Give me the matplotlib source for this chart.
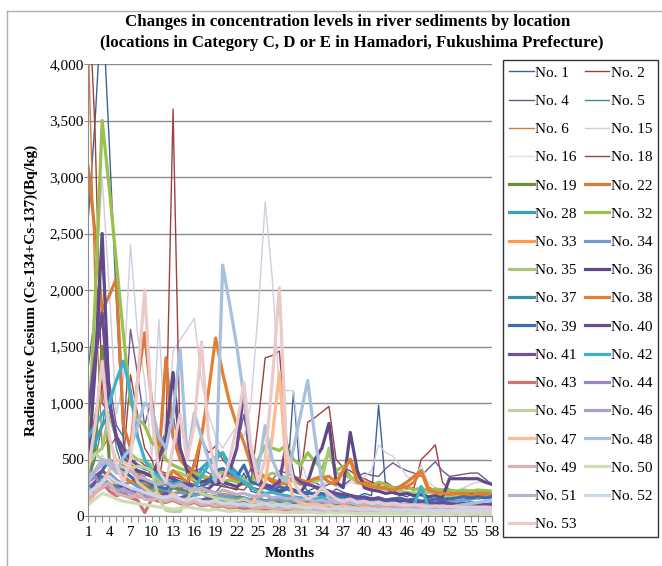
import matplotlib
matplotlib.use('Agg')
import matplotlib.pyplot as plt
from matplotlib.lines import Line2D
from matplotlib.ticker import FuncFormatter
import numpy as np

plt.rcParams['font.family'] = ['Liberation Serif', 'DejaVu Serif']

months = np.arange(1, 59)

# monthly readings (Bq/kg) per location
no1 = [2600, 3500, 4600, 3300, 1900, 650, 420, 380, 300, 260,
       240, 300, 280, 250, 220, 500, 260, 230, 210, 280,
       250, 230, 380, 220, 200, 260, 240, 200, 230, 1100,
       300, 220, 250, 200, 180, 240, 210, 190, 170, 200,
       180, 980, 260, 200, 190, 170, 210, 180, 160, 190,
       150, 170, 160, 180, 170, 150, 160, 170]
no2 = [4800, 3400, 1000, 900, 700, 600, 550, 500, 450, 420,
       400, 380, 350, 330, 300, 280, 300, 320, 280, 260,
       250, 240, 230, 300, 820, 1400, 1420, 1460, 700, 300,
       350, 830, 870, 920, 970, 500, 430, 400, 350, 330,
       300, 280, 300, 260, 250, 240, 250, 500, 560, 630,
       300, 230, 220, 210, 200, 190, 210, 200]
no4 = [1300, 1800, 2300, 1200, 800, 700, 1650, 1250, 800, 1050,
       600, 750, 900, 500, 450, 400, 420, 380, 350, 330,
       420, 600, 900, 400, 300, 350, 320, 400, 380, 350,
       300, 280, 300, 260, 280, 300, 270, 320, 350, 380,
       360, 350, 420, 470, 430, 400, 380, 350, 420, 480,
       400, 350, 360, 370, 380, 380, 330, 280]
no5 = [300, 500, 800, 1150, 600, 400, 350, 300, 280, 250,
       230, 220, 260, 240, 210, 200, 190, 220, 200, 180,
       170, 190, 160, 150, 170, 140, 160, 150, 130, 140,
       120, 130, 150, 120, 110, 130, 120, 100, 110, 120,
       100, 110, 90, 100, 110, 90, 80, 100, 90, 80,
       90, 100, 80, 90, 85, 80, 90, 85]
no6 = [4300, 2000, 600, 700, 500, 450, 420, 380, 350, 400,
       320, 300, 280, 250, 260, 240, 220, 230, 210, 200,
       190, 180, 200, 170, 160, 180, 150, 160, 140, 150,
       130, 140, 150, 130, 120, 130, 110, 120, 130, 110,
       100, 120, 110, 100, 90, 110, 100, 90, 100, 90,
       80, 90, 85, 80, 90, 85, 80, 90]
no15 = [800, 2000, 3000, 2000, 900, 1200, 2400, 1600, 1200, 500,
        1740, 500, 1460, 1560, 1650, 1750, 1200, 900, 700, 600,
        700, 800, 700, 1000, 1800, 2780, 2100, 1110, 1110, 1110,
        500, 300, 250, 280, 300, 260, 250, 300, 280, 350,
        400, 630, 560, 530, 450, 350, 320, 450, 300, 250,
        220, 200, 220, 250, 280, 300, 300, 300]
no16 = [150, 300, 550, 400, 250, 200, 180, 160, 150, 140,
        130, 120, 140, 110, 100, 120, 90, 100, 110, 90,
        80, 90, 100, 80, 70, 90, 80, 70, 80, 60,
        70, 60, 80, 70, 60, 70, 60, 50, 60, 70,
        60, 50, 60, 55, 50, 60, 50, 45, 55, 50,
        45, 50, 55, 45, 50, 45, 50, 45]
no18 = [500, 900, 1200, 600, 700, 500, 1250, 900, 600, 500,
        300, 700, 3600, 600, 350, 300, 680, 560, 620, 500,
        420, 380, 300, 420, 380, 250, 230, 260, 240, 220,
        200, 190, 210, 180, 170, 160, 180, 170, 150, 140,
        160, 150, 140, 130, 150, 140, 130, 120, 140, 130,
        120, 110, 130, 120, 110, 120, 110, 100]
no19 = [300, 600, 1500, 500, 400, 350, 300, 280, 260, 240,
        220, 200, 250, 230, 210, 190, 200, 180, 170, 160,
        150, 170, 160, 140, 150, 130, 140, 120, 130, 110,
        120, 100, 110, 100, 90, 100, 95, 90, 85, 90,
        80, 85, 80, 90, 75, 80, 85, 75, 80, 70,
        75, 80, 70, 75, 70, 80, 75, 70]
no22 = [3100, 2500, 1820, 1950, 2100, 800, 600, 1200, 1620, 1000,
        500, 1400, 700, 500, 420, 380, 350, 330, 400, 380,
        350, 320, 300, 280, 330, 350, 300, 280, 300, 320,
        280, 300, 330, 350, 300, 280, 400, 500, 350, 300,
        280, 260, 250, 240, 260, 300, 350, 400, 250, 220,
        230, 220, 210, 200, 220, 210, 200, 190]
no28 = [500, 650, 800, 900, 700, 550, 450, 400, 380, 350,
        300, 280, 320, 300, 260, 240, 420, 480, 520, 560,
        450, 380, 320, 280, 300, 260, 240, 220, 250, 230,
        200, 210, 190, 180, 200, 170, 160, 180, 150, 160,
        140, 150, 130, 140, 150, 130, 120, 260, 140, 120,
        110, 120, 130, 110, 120, 110, 100, 110]
no32 = [600, 1900, 3500, 2900, 2250, 1600, 1000, 870, 800, 650,
        600, 500, 450, 420, 400, 380, 360, 340, 320, 300,
        320, 300, 280, 260, 500, 620, 600, 580, 630, 500,
        450, 560, 480, 420, 560, 400, 440, 350, 300, 280,
        260, 300, 280, 250, 240, 260, 230, 250, 220, 240,
        230, 230, 220, 230, 220, 230, 225, 220]
no33 = [200, 250, 300, 350, 280, 260, 240, 220, 200, 180,
        160, 150, 170, 140, 130, 120, 140, 110, 100, 120,
        110, 100, 90, 110, 100, 90, 100, 80, 90, 100,
        80, 90, 70, 80, 90, 70, 80, 70, 60, 70,
        80, 60, 70, 60, 70, 60, 65, 60, 55, 60,
        55, 60, 50, 55, 60, 50, 55, 50]
no34 = [400, 350, 300, 380, 320, 280, 300, 260, 240, 220,
        250, 230, 200, 210, 190, 180, 200, 170, 160, 180,
        170, 150, 160, 140, 150, 130, 140, 150, 120, 130,
        120, 110, 130, 110, 100, 120, 110, 100, 110, 100,
        90, 100, 110, 90, 100, 90, 110, 100, 90, 100,
        110, 120, 130, 140, 150, 160, 170, 180]
no35 = [500, 550, 600, 900, 700, 600, 550, 500, 480, 450,
        300, 350, 400, 380, 350, 320, 300, 280, 350, 400,
        380, 350, 320, 300, 330, 350, 380, 360, 340, 320,
        300, 280, 300, 330, 600, 380, 360, 340, 300, 280,
        260, 250, 240, 230, 220, 210, 200, 190, 210, 200,
        190, 180, 170, 180, 170, 160, 170, 160]
no36 = [400, 1300, 2500, 1000, 700, 500, 450, 400, 380, 350,
        500, 700, 1270, 600, 400, 350, 300, 320, 280, 300,
        280, 260, 300, 250, 230, 260, 240, 220, 250, 230,
        210, 300, 500, 600, 820, 300, 250, 740, 400, 250,
        230, 220, 200, 210, 190, 200, 180, 190, 170, 180,
        160, 330, 330, 330, 330, 330, 300, 280]
no37 = [250, 300, 350, 280, 260, 240, 220, 200, 180, 200,
        170, 160, 180, 150, 140, 160, 130, 140, 150, 120,
        130, 110, 120, 100, 110, 90, 100, 110, 90, 100,
        80, 90, 100, 80, 90, 200, 100, 80, 90, 70,
        80, 90, 70, 80, 70, 80, 70, 75, 70, 65,
        70, 65, 60, 70, 65, 60, 65, 60]
no38 = [300, 400, 500, 450, 400, 350, 300, 330, 300, 280,
        250, 300, 400, 350, 300, 450, 700, 1100, 1575, 1265,
        1000, 800, 650, 450, 380, 350, 320, 300, 280, 350,
        320, 300, 330, 340, 350, 300, 400, 500, 300, 280,
        260, 250, 240, 230, 250, 260, 300, 400, 230, 210,
        200, 190, 200, 190, 180, 190, 180, 170]
no39 = [300, 350, 400, 500, 450, 400, 350, 300, 320, 280,
        260, 240, 300, 280, 250, 230, 260, 300, 400, 420,
        380, 350, 450, 300, 280, 250, 230, 260, 240, 220,
        200, 210, 190, 200, 180, 190, 170, 180, 160, 170,
        150, 160, 140, 150, 160, 140, 150, 130, 140, 150,
        140, 150, 160, 170, 160, 170, 160, 170]
no40 = [900, 1400, 1800, 1000, 700, 600, 500, 450, 420, 400,
        380, 350, 330, 300, 280, 260, 250, 240, 300, 350,
        400, 600, 1100, 500, 300, 280, 260, 300, 640, 350,
        300, 280, 260, 240, 220, 200, 190, 180, 170, 160,
        150, 160, 140, 150, 130, 140, 120, 130, 120, 110,
        120, 110, 100, 110, 100, 110, 100, 100]
no41 = [200, 300, 400, 350, 300, 250, 230, 200, 220, 190,
        180, 200, 170, 160, 180, 150, 140, 160, 130, 140,
        120, 130, 110, 120, 100, 110, 120, 100, 90, 100,
        90, 80, 90, 80, 70, 80, 70, 80, 70, 60,
        70, 60, 70, 60, 65, 60, 55, 60, 55, 50,
        55, 50, 55, 50, 45, 50, 45, 50]
no42 = [700, 800, 900, 1000, 1200, 1370, 1100, 700, 500, 400,
        350, 300, 280, 300, 250, 230, 350, 450, 500, 560,
        400, 350, 300, 250, 220, 200, 210, 190, 180, 170,
        160, 170, 150, 160, 140, 150, 130, 140, 120, 130,
        110, 120, 100, 110, 100, 90, 100, 250, 90, 80,
        90, 80, 85, 80, 75, 80, 75, 70]
no43 = [200, 250, 300, 220, 180, 200, 160, 140, 30, 150,
        130, 120, 140, 110, 100, 120, 90, 100, 80, 90,
        70, 80, 60, 70, 50, 60, 50, 60, 40, 50,
        40, 50, 40, 45, 40, 35, 40, 35, 30, 35,
        30, 35, 30, 25, 30, 25, 30, 25, 20, 25,
        20, 25, 20, 25, 20, 20, 25, 20]
no44 = [300, 350, 250, 280, 230, 200, 220, 180, 160, 170,
        150, 140, 160, 130, 120, 140, 110, 120, 100, 110,
        90, 100, 80, 90, 100, 80, 90, 70, 80, 70,
        60, 70, 60, 70, 60, 55, 60, 55, 50, 55,
        50, 55, 45, 50, 45, 50, 45, 40, 45, 40,
        45, 40, 45, 40, 45, 40, 40, 45]
no45 = [450, 550, 500, 480, 450, 430, 420, 440, 430, 400,
        150, 50, 40, 40, 150, 250, 200, 180, 160, 150,
        140, 130, 150, 120, 130, 110, 120, 100, 110, 90,
        100, 80, 90, 80, 70, 80, 70, 60, 70, 60,
        55, 60, 55, 50, 55, 50, 45, 50, 45, 40,
        45, 40, 45, 40, 45, 40, 45, 40]
no46 = [250, 200, 300, 260, 220, 240, 200, 180, 200, 170,
        160, 150, 170, 140, 130, 150, 120, 130, 110, 120,
        100, 110, 90, 100, 90, 80, 90, 80, 70, 80,
        70, 60, 70, 60, 70, 60, 55, 60, 55, 50,
        55, 50, 55, 50, 45, 50, 45, 50, 45, 40,
        45, 40, 45, 40, 40, 45, 40, 40]
no47 = [100, 200, 300, 400, 500, 480, 450, 300, 250, 200,
        180, 160, 200, 150, 130, 140, 120, 110, 130, 100,
        110, 100, 90, 100, 200, 300, 700, 1270, 400, 150,
        120, 100, 110, 90, 100, 80, 90, 80, 70, 80,
        70, 60, 70, 60, 70, 60, 55, 60, 55, 50,
        55, 50, 55, 50, 60, 55, 50, 55]
no48 = [300, 400, 500, 450, 380, 520, 600, 800, 1000, 950,
        700, 600, 900, 1480, 500, 910, 700, 500, 300, 2220,
        1870, 1500, 1050, 600, 400, 800, 500, 350, 300, 600,
        900, 1200, 700, 300, 150, 120, 140, 130, 120, 110,
        120, 100, 110, 100, 90, 100, 90, 100, 90, 80,
        90, 80, 90, 100, 110, 120, 130, 140]
no49 = [150, 200, 250, 300, 200, 180, 160, 200, 150, 140,
        160, 130, 150, 120, 110, 130, 100, 110, 90, 100,
        80, 90, 100, 80, 70, 80, 70, 60, 70, 60,
        50, 60, 50, 45, 50, 45, 40, 45, 40, 35,
        40, 35, 30, 35, 30, 35, 30, 25, 30, 25,
        30, 25, 30, 25, 20, 25, 20, 25]
no50 = [100, 150, 200, 180, 150, 130, 120, 110, 100, 90,
        80, 70, 60, 70, 80, 70, 60, 50, 60, 50,
        40, 50, 40, 45, 40, 35, 40, 35, 30, 35,
        30, 35, 30, 25, 30, 25, 30, 25, 20, 25,
        20, 25, 20, 25, 20, 20, 25, 20, 20, 25,
        20, 20, 25, 20, 20, 25, 20, 20]
no51 = [350, 400, 450, 500, 420, 380, 400, 350, 330, 300,
        280, 300, 260, 280, 250, 230, 250, 220, 200, 230,
        210, 190, 200, 180, 170, 190, 160, 170, 150, 160,
        140, 150, 130, 140, 120, 130, 110, 120, 100, 110,
        100, 90, 100, 90, 80, 90, 80, 85, 80, 75,
        80, 75, 70, 75, 70, 75, 70, 70]
no52 = [200, 250, 300, 350, 300, 280, 250, 230, 210, 190,
        170, 160, 180, 150, 140, 160, 130, 120, 140, 110,
        120, 100, 110, 90, 100, 110, 90, 100, 80, 90,
        80, 70, 80, 70, 60, 70, 60, 65, 60, 55,
        60, 55, 50, 55, 50, 55, 50, 45, 50, 45,
        50, 45, 50, 45, 50, 45, 50, 45]
no53 = [400, 800, 1370, 700, 450, 300, 500, 1200, 2000, 900,
        400, 300, 600, 900, 500, 800, 1540, 700, 400, 300,
        500, 800, 1180, 600, 300, 500, 1200, 2020, 600, 300,
        200, 150, 180, 250, 200, 150, 130, 150, 120, 130,
        110, 120, 100, 110, 100, 90, 100, 90, 80, 90,
        80, 85, 80, 75, 80, 75, 80, 75]

labels = ['No. 1', 'No. 2', 'No. 4', 'No. 5', 'No. 6', 'No. 15', 'No. 16',
          'No. 18', 'No. 19', 'No. 22', 'No. 28', 'No. 32', 'No. 33', 'No. 34',
          'No. 35', 'No. 36', 'No. 37', 'No. 38', 'No. 39', 'No. 40', 'No. 41',
          'No. 42', 'No. 43', 'No. 44', 'No. 45', 'No. 46', 'No. 47', 'No. 48',
          'No. 49', 'No. 50', 'No. 51', 'No. 52', 'No. 53']
series = [no1, no2, no4, no5, no6, no15, no16, no18, no19, no22, no28, no32,
          no33, no34, no35, no36, no37, no38, no39, no40, no41, no42, no43,
          no44, no45, no46, no47, no48, no49, no50, no51, no52, no53]
colors = ['#3E6491', '#A0403C', '#6E5A8E', '#3C8C9C', '#CF7B3F', '#D2CCDC',
          '#CFE2F0', '#A04040', '#6E8C3A', '#D97A35', '#35A3C0', '#9AC050',
          '#FF9A4A', '#7799D0', '#A8C878', '#5E4A88', '#3A8FA8', '#E38030',
          '#3D6DAF', '#6A4A95', '#7350A0', '#3DB0CC', '#D07070', '#9A86C0',
          '#BCD49A', '#B0A0C8', '#FDBB90', '#A8C0E0', '#DDB0B0', '#CCDDB8',
          '#BBB0D0', '#C8D8EA', '#ECCACA']
widths = [1.0] * 8 + [2.3] * 25

fig = plt.figure(figsize=(6.62, 5.66), dpi=100)
ax = fig.add_axes([88 / 662, 50 / 566, 404 / 662, 452 / 566])

for lab, vals, col, lw in zip(labels, series, colors, widths):
    ax.plot(months, vals, color=col, lw=lw, label=lab)

ax.set_xlim(1, 58)
ax.set_ylim(0, 4000)
ax.set_yticks(range(0, 4001, 500))
ax.yaxis.set_major_formatter(FuncFormatter(lambda v, p: f'{int(v):,}'))
ax.set_xticks(months)
ax.set_xticklabels([str(m) if (m - 1) % 3 == 0 else '' for m in months])
ax.grid(axis='y', color='#8c8c8c', lw=1.0)
ax.set_axisbelow(True)
for s in ['top', 'right']:
    ax.spines[s].set_visible(False)
for s in ['left', 'bottom']:
    ax.spines[s].set_color('#8c8c8c')
ax.tick_params(axis='x', direction='out', length=4, color='#8c8c8c', labelsize=11, pad=3)
ax.tick_params(axis='y', direction='out', length=3, color='#8c8c8c', labelsize=11, pad=0)

ax.set_xlabel('Months', fontsize=11, fontweight='bold', labelpad=6)
ax.set_ylabel('Radioactive Cesium (Cs-134+Cs-137)(Bq/kg)', fontsize=11,
              fontweight='bold', labelpad=8)

fig.text(348 / 662, 1 - 22 / 566,
         'Changes in concentration levels in river sediments by location',
         ha='center', va='center', fontsize=12.2, fontweight='bold')
fig.text(352 / 662, 1 - 43 / 566,
         '(locations in Category C, D or E in Hamadori, Fukushima Prefecture)',
         ha='center', va='center', fontsize=12.2, fontweight='bold')

# legend filled row by row like the original
h, l = ax.get_legend_handles_labels()
order = list(range(0, len(h), 2)) + list(range(1, len(h), 2))
leg = fig.legend([h[i] for i in order], [l[i] for i in order], ncol=2,
                 loc='upper left', bbox_to_anchor=(503 / 662, 1 - 60 / 566),
                 frameon=True, fancybox=False, edgecolor='black', fontsize=11,
                 handlelength=1.6, handletextpad=0.12, columnspacing=0.5,
                 labelspacing=0.95, borderpad=0.4, borderaxespad=0)
leg.get_frame().set_linewidth(1.0)

# chart area border
fig.add_artist(Line2D([7 / 662, 7 / 662], [0, 1 - 11 / 566], transform=fig.transFigure,
                      color='#b0b0b0', lw=1))
fig.add_artist(Line2D([7 / 662, 1], [1 - 11 / 566, 1 - 11 / 566], transform=fig.transFigure,
                      color='#b0b0b0', lw=1))

fig.savefig('out.png', dpi=100)
